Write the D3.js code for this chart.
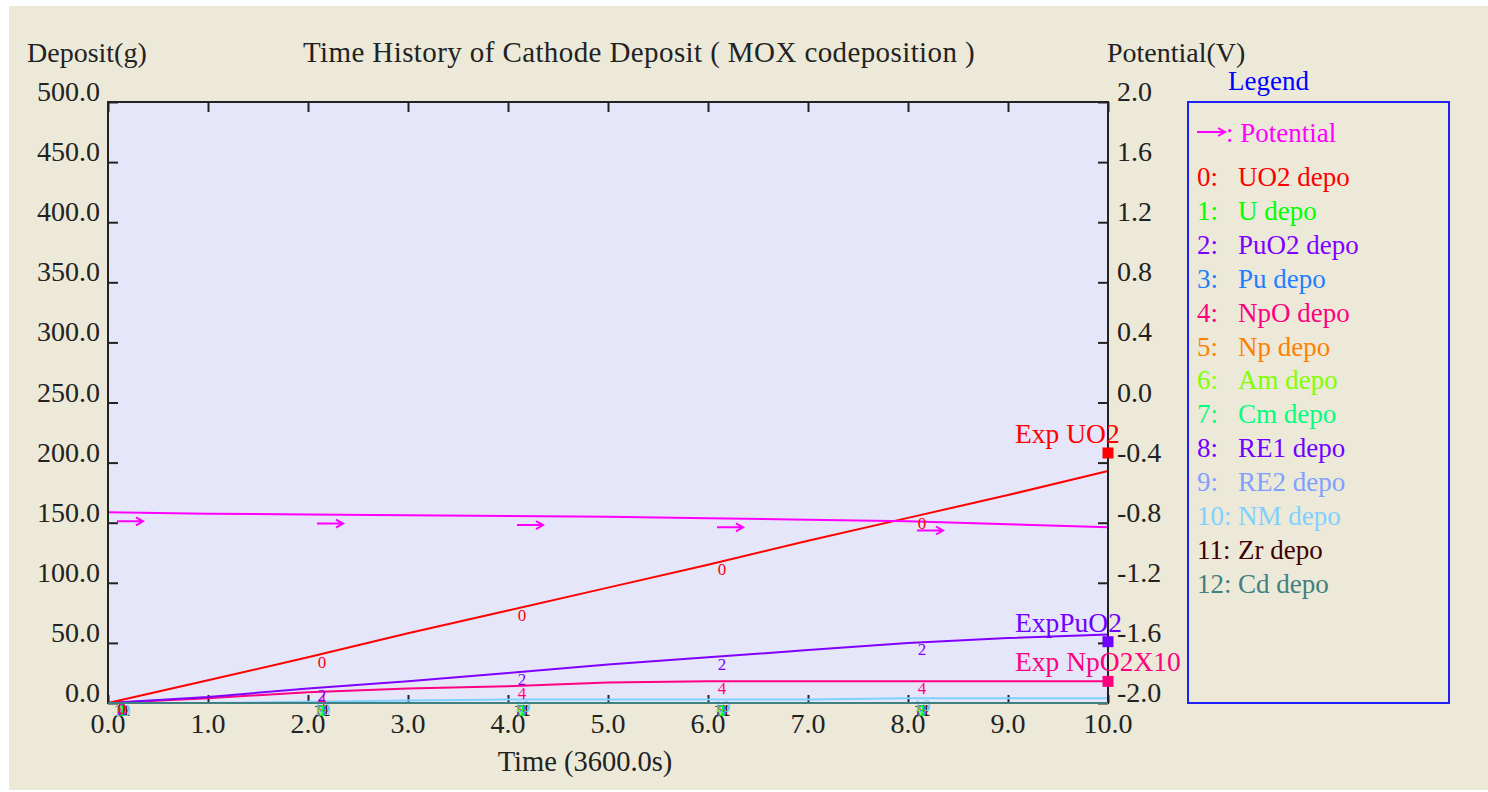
<!DOCTYPE html>
<html>
<head>
<meta charset="utf-8">
<script src="https://cdn.jsdelivr.net/npm/d3@7"></script>
<style>
  body { margin: 0; background: #fff; }
  text { font-family: "Liberation Serif", "Times New Roman", serif; }
</style>
</head>
<body>
<div id="chart"></div>
<script>
// data (hours in units of 3600 s)
const hours = [0, 1, 2, 3, 4, 5, 6, 7, 8, 9, 10];
const uo2Depo = [0, 19, 38, 58, 77, 96, 115, 135, 154, 173, 193];
const uDepo = [0, 0, 0, 0, 0, 0, 0, 0, 0, 0, 0];
const puo2Depo = [0, 5, 12, 18, 25, 32, 38, 44, 50, 54, 57];
const puDepo = [0, 0, 0, 0, 0, 0, 0, 0, 0, 0, 0];
const npoDepo = [0, 4, 9, 12, 14, 17, 18, 18, 18, 18, 18];
const zeroDepo = [0, 0, 0, 0, 0, 0, 0, 0, 0, 0, 0];
const nmDepo = [0, 0, 1, 2, 3, 3, 3, 3, 4, 4, 4];
const potential = [-0.73, -0.74, -0.745, -0.75, -0.755, -0.76, -0.77, -0.78, -0.79, -0.81, -0.83];

const seriesNames = ["UO2 depo", "U depo", "PuO2 depo", "Pu depo", "NpO depo", "Np depo",
  "Am depo", "Cm depo", "RE1 depo", "RE2 depo", "NM depo", "Zr depo", "Cd depo"];
const seriesColors = ["#ff0000", "#00ff00", "#8000ff", "#1e7fff", "#ff0080", "#ff8000",
  "#80ff00", "#00ff80", "#7000ff", "#80a0ff", "#80d0ff", "#400000", "#408080"];
const seriesValues = [uo2Depo, uDepo, puo2Depo, puDepo, npoDepo, zeroDepo,
  zeroDepo, zeroDepo, zeroDepo, zeroDepo, nmDepo, zeroDepo, zeroDepo];

const expNames = ["Exp UO2", "ExpPuO2", "Exp NpO2X10"];
const expValues = [208, 51, 18];
const expColors = ["#ff0000", "#7000ff", "#ff0080"];

const labelTimes = [0.1, 2.1, 4.1, 6.1, 8.1];
const xTicks = [0, 1, 2, 3, 4, 5, 6, 7, 8, 9, 10];
const yTicks = [0, 50, 100, 150, 200, 250, 300, 350, 400, 450, 500];
const vTicks = [-2.0, -1.6, -1.2, -0.8, -0.4, 0.0, 0.4, 0.8, 1.2, 1.6, 2.0];

// layout
const W = 1488, H = 792;
const plotLeft = 108, plotRight = 1108, plotTop = 102, plotBottom = 703;
const ink = "#222";

const svg = d3.select("#chart").append("svg")
  .attr("width", W)
  .attr("height", H);

svg.append("rect")
  .attr("x", 9).attr("y", 6)
  .attr("width", W - 9).attr("height", H - 8)
  .attr("fill", "#ece9d8");

const x = d3.scaleLinear().domain([0, 10]).range([plotLeft, plotRight]);
const y = d3.scaleLinear().domain([0, 500]).range([plotBottom, plotTop]);
const yv = d3.scaleLinear().domain([-2, 2]).range([plotBottom, plotTop]);

// plot area
svg.append("rect")
  .attr("x", plotLeft).attr("y", plotTop)
  .attr("width", plotRight - plotLeft).attr("height", plotBottom - plotTop)
  .attr("fill", "#e6e6fa");

// titles
svg.append("text").attr("x", 27).attr("y", 62)
  .attr("font-size", 28).attr("fill", ink).text("Deposit(g)");
svg.append("text").attr("x", 639).attr("y", 62).attr("text-anchor", "middle")
  .attr("font-size", 29).attr("letter-spacing", 0.4).attr("fill", ink)
  .text("Time History of Cathode Deposit ( MOX codeposition )");
svg.append("text").attr("x", 1107).attr("y", 62)
  .attr("font-size", 28).attr("fill", ink).text("Potential(V)");
svg.append("text").attr("x", 585).attr("y", 771).attr("text-anchor", "middle")
  .attr("font-size", 28.5).attr("fill", ink).text("Time (3600.0s)");

// axes
const leftAxis = d3.axisRight(y).tickValues(yTicks).tickSize(10).tickFormat("");
const rightAxis = d3.axisLeft(yv).tickValues(vTicks).tickSize(10).tickFormat("");
const topAxis = d3.axisBottom(x).tickValues(xTicks).tickSize(10).tickFormat("");
const bottomAxis = d3.axisTop(x).tickValues(xTicks).tickSize(8).tickFormat("");

function styleAxis(g) {
  g.select(".domain").remove();
  g.selectAll(".tick line").attr("stroke", ink).attr("stroke-width", 2);
}
svg.append("g").attr("transform", `translate(${plotLeft},0)`).call(leftAxis).call(styleAxis);
svg.append("g").attr("transform", `translate(${plotRight},0)`).call(rightAxis).call(styleAxis);
svg.append("g").attr("transform", `translate(0,${plotTop})`).call(topAxis).call(styleAxis);
svg.append("g").attr("transform", `translate(0,${plotBottom})`).call(bottomAxis).call(styleAxis);

// tick labels
svg.append("g").selectAll("text").data(yTicks).join("text")
  .attr("x", 100).attr("y", d => y(d) - 1)
  .attr("text-anchor", "end").attr("font-size", 28).attr("fill", ink)
  .text(d => d.toFixed(1));
svg.append("g").selectAll("text").data(vTicks).join("text")
  .attr("x", 1117).attr("y", d => yv(d) - 1)
  .attr("font-size", 28).attr("fill", ink)
  .text(d => d.toFixed(1));
svg.append("g").selectAll("text").data(xTicks).join("text")
  .attr("x", d => x(d)).attr("y", 733)
  .attr("text-anchor", "middle").attr("font-size", 28).attr("fill", ink)
  .text(d => d.toFixed(1));

// series lines (draw from last to first so UO2 is on top)
const line = d3.line().x((d, i) => x(hours[i])).y(d => y(d));
const order = d3.range(seriesValues.length).reverse();
svg.append("g").selectAll("path").data(order).join("path")
  .attr("d", i => line(seriesValues[i]))
  .attr("fill", "none")
  .attr("stroke", i => seriesColors[i])
  .attr("stroke-width", 2);

// potential line
const vline = d3.line().x((d, i) => x(hours[i])).y(d => yv(d));
svg.append("path")
  .attr("d", vline(potential))
  .attr("fill", "none")
  .attr("stroke", "#ff00ff")
  .attr("stroke-width", 2);

// value at a given time along a series
function valueAt(vals, t) {
  const i = Math.min(Math.floor(t), vals.length - 2);
  const f = t - i;
  return vals[i] + (vals[i + 1] - vals[i]) * f;
}

// numbered markers on lines
order.forEach(i => {
  svg.append("g").selectAll("text").data(labelTimes).join("text")
    .attr("x", t => x(t) + 4)
    .attr("y", t => y(valueAt(seriesValues[i], t)) + 13)
    .attr("text-anchor", "middle")
    .attr("font-size", 17)
    .attr("fill", seriesColors[i])
    .text(i);
});

// long thin arrow glyph
function arrowPath(x0, y0, len) {
  return `M${x0},${y0}H${x0 + len}M${x0 + len - 7},${y0 - 4}L${x0 + len},${y0}L${x0 + len - 7},${y0 + 4}`;
}

// potential arrows
svg.append("g").selectAll("path").data(labelTimes).join("path")
  .attr("d", t => arrowPath(x(t) - 1, yv(valueAt(potential, t)) + 9, 26))
  .attr("fill", "none")
  .attr("stroke", "#ff00ff")
  .attr("stroke-width", 2);

// axis frame
svg.append("rect")
  .attr("x", plotLeft).attr("y", plotTop)
  .attr("width", plotRight - plotLeft).attr("height", plotBottom - plotTop)
  .attr("fill", "none").attr("stroke", ink).attr("stroke-width", 2);
// Cd line over the bottom axis
svg.append("path")
  .attr("d", line(seriesValues[12]))
  .attr("fill", "none").attr("stroke", seriesColors[12]).attr("stroke-width", 2);

// experimental points
expValues.forEach((v, i) => {
  svg.append("rect")
    .attr("x", x(10) - 5.5).attr("y", y(v) - 5.5)
    .attr("width", 11).attr("height", 11)
    .attr("fill", expColors[i]);
  svg.append("text")
    .attr("x", 1015).attr("y", y(v) - 10)
    .attr("font-size", 27.5)
    .attr("fill", expColors[i])
    .text(expNames[i]);
});

// legend
svg.append("text").attr("x", 1228).attr("y", 90)
  .attr("font-size", 27).attr("fill", "#0000ff").text("Legend");
svg.append("rect")
  .attr("x", 1188).attr("y", 102)
  .attr("width", 261).attr("height", 601)
  .attr("fill", "none").attr("stroke", "#2020ff").attr("stroke-width", 2);
svg.append("path")
  .attr("d", arrowPath(1197, 132, 28))
  .attr("fill", "none").attr("stroke", "#ff00ff").attr("stroke-width", 2);
svg.append("text").attr("x", 1226).attr("y", 142)
  .attr("font-size", 27).attr("fill", "#ff00ff").text(": Potential");

const leg = svg.append("g").selectAll("g").data(seriesNames).join("g")
  .attr("transform", (d, i) => `translate(0,${186 + i * 33.9})`);
leg.append("text").attr("x", 1197)
  .attr("font-size", 27).attr("fill", (d, i) => seriesColors[i])
  .text((d, i) => i + ":");
leg.append("text").attr("x", 1238)
  .attr("font-size", 27).attr("fill", (d, i) => seriesColors[i])
  .text(d => d);
</script>
</body>
</html>
